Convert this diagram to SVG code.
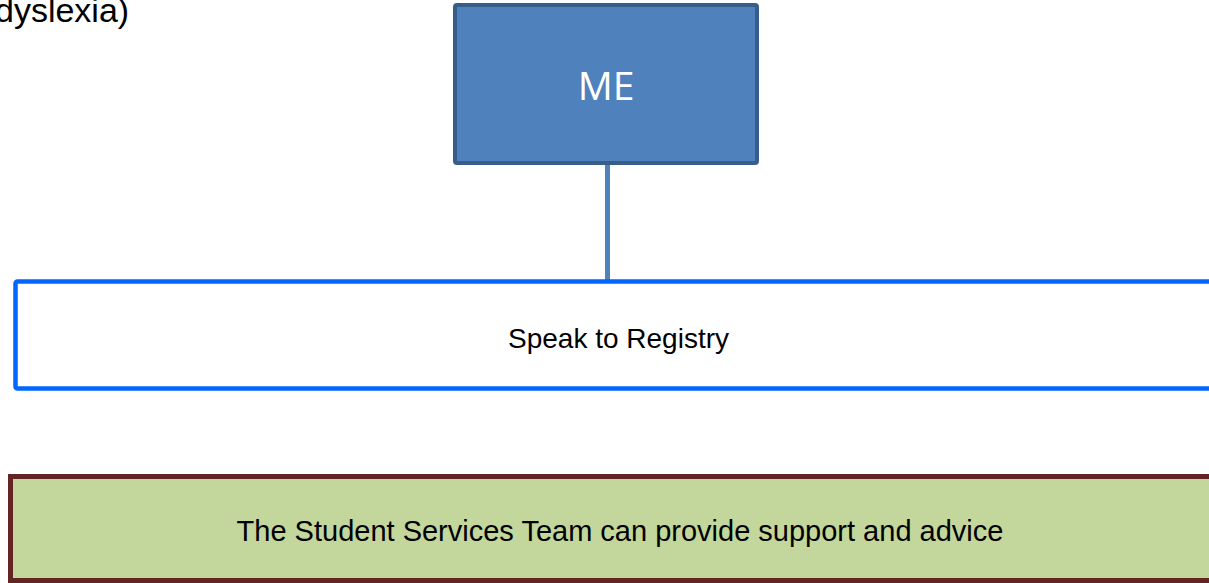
<svg xmlns="http://www.w3.org/2000/svg" width="1209" height="583" viewBox="0 0 1209 583">
<style>
.lbl{font-family:"Liberation Sans",Arial,sans-serif;fill:#000;}
</style>
<rect x="0" y="0" width="1209" height="583" fill="#ffffff"/>
<text class="lbl" x="-5" y="22" font-size="34">dyslexia)</text>
<g id="connectors">
<line x1="607.5" y1="163" x2="607.5" y2="281" stroke="#4F81BD" stroke-width="5"/>
</g>
<g id="node-me">
<rect x="455" y="5" width="302" height="158" rx="2" fill="#4F81BD" stroke="#385D8A" stroke-width="4"/>
<text x="606" y="100" font-family="'Open Sans','Noto Sans',sans-serif" font-size="39" fill="#ffffff" text-anchor="middle">ME</text>
</g>
<g id="node-registry">
<rect x="15.5" y="281.5" width="1300" height="107" rx="2" fill="#ffffff" stroke="#0066FF" stroke-width="4.5"/>
<text class="lbl" x="618.5" y="348" font-size="28" text-anchor="middle">Speak to Registry</text>
</g>
<g id="node-student-services">
<rect x="10.5" y="476.5" width="1300" height="104" fill="#C3D69B" stroke="#632523" stroke-width="5"/>
<text class="lbl" x="620" y="541" font-size="29" text-anchor="middle">The Student Services Team can provide support and advice</text>
</g>
</svg>
